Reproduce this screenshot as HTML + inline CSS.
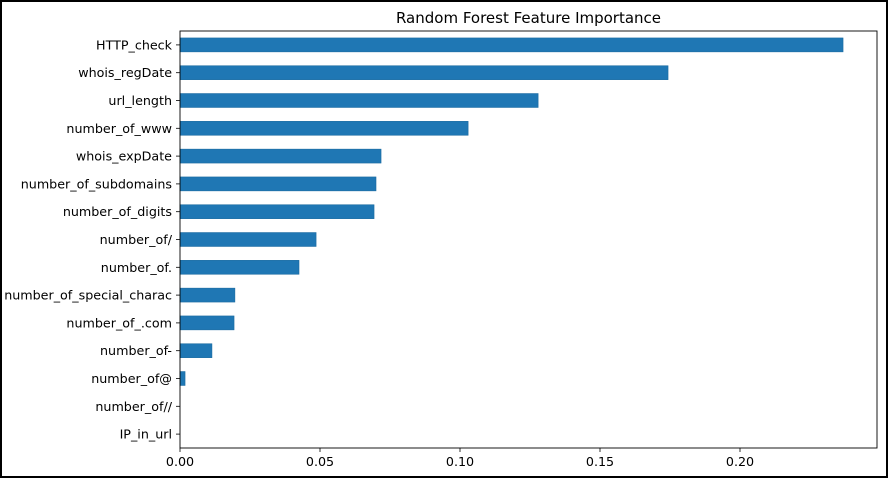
<!DOCTYPE html>
<html><head><meta charset="utf-8"><style>
html,body{margin:0;padding:0;background:#fff;}
#wrap{position:relative;width:888px;height:478px;box-sizing:border-box;border:2px solid #000;}
svg{position:absolute;left:-2px;top:-2px;}
text{font-family:"DejaVu Sans","Liberation Sans",sans-serif;fill:#000;}
</style></head><body>
<div id="wrap">
<svg id="chart" width="888" height="478"></svg>
</div>
<script>
const categories = ["HTTP_check","whois_regDate","url_length","number_of_www","whois_expDate","number_of_subdomains","number_of_digits","number_of/","number_of.","number_of_special_charac","number_of_.com","number_of-","number_of@","number_of//","IP_in_url"];
const importances = [0.2368,0.1743,0.1279,0.1029,0.0718,0.0700,0.0693,0.0486,0.0425,0.0196,0.0193,0.0114,0.0018,0,0];
const xTicks = [0,0.05,0.10,0.15,0.20];
const xTickLabels = ["0.00","0.05","0.10","0.15","0.20"];

const NS="http://www.w3.org/2000/svg";
const svg=document.getElementById('chart');
const L=180,R=877,T=31,B=448;
const xMax=(R-L)/2800;
const x=v=>L+v/xMax*(R-L);
const band=(B-T)/categories.length;
const yc=i=>T+band*(i+0.5);
function mk(tag,attrs){const e=document.createElementNS(NS,tag);for(const k in attrs)e.setAttribute(k,attrs[k]);svg.appendChild(e);return e;}

categories.forEach((c,i)=>{
  const w=x(importances[i])-x(0);
  const r=mk('rect',{x:x(0),y:yc(i)-band*0.25,width:Math.max(w,0),height:band*0.5,fill:'#1f77b4',stroke:'#1a6aa0','stroke-width':0.6});
  
  
  const tk=mk('line',{x1:L-4,x2:L,y1:yc(i),y2:yc(i),stroke:'#000','stroke-width':0.8});
  
  
  const t=mk('text',{x:L-8,y:yc(i)+4.5,'text-anchor':'end','font-size':12.7});
  t.textContent=c;
  
  
});
xTicks.forEach((v,i)=>{
  const tk=mk('line',{x1:x(v),x2:x(v),y1:B,y2:B+4,stroke:'#000','stroke-width':0.8});
  
  
  const t=mk('text',{x:x(v),y:B+18,'text-anchor':'middle','font-size':12.7});
  t.textContent=xTickLabels[i];
  
  
});
const frame=mk('rect',{x:L,y:T,width:R-L,height:B-T,fill:'none',stroke:'#000','stroke-width':0.9});


const title=mk('text',{x:(L+R)/2,y:23,'text-anchor':'middle','font-size':15});
title.textContent='Random Forest Feature Importance';


</script>
</body></html>
